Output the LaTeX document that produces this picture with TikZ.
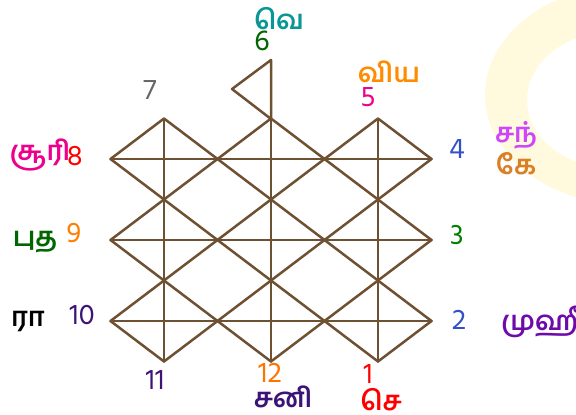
\documentclass[tikz,border=0pt]{standalone}
\usepackage{fontspec}
\newfontfamily\tamilfont[Script=Tamil]{Hind Madurai}
\newfontfamily\digitfont{Hind Madurai}
\usetikzlibrary{calc}

\tikzset{
  chartline/.style={line width=2.5pt,draw=gridline,line join=round,line cap=round},
  housenum/.style={inner sep=0pt,font=\digitfont\fontsize{29}{32}\selectfont},
  planet/.style={inner sep=0pt,font=\tamilfont\bfseries\fontsize{27}{32}\selectfont}
}

\begin{document}
\begin{tikzpicture}[x=1pt,y=-1pt]

  % Define colors
  \definecolor{gridline}{RGB}{110,80,50}
  \definecolor{ringyellow}{RGB}{255,249,221}
  \definecolor{tealtxt}{RGB}{10,150,150}
  \definecolor{indigotxt}{RGB}{60,20,120}
  \definecolor{purpletxt}{RGB}{110,10,170}
  \definecolor{orchidtxt}{RGB}{205,70,250}
  \definecolor{bluetxt}{RGB}{50,80,200}

  \useasboundingbox (0,0) rectangle (576,415);

  % pale ring at the upper right
  \fill[ringyellow,even odd rule] (630,95) ellipse [x radius=145,y radius=110]
    (612,100) ellipse [x radius=85,y radius=68];

  % 3x3 diamonds, each crossed
  \foreach \cx in {164,271,378} {
    \foreach \cy in {159,240,321} {
      \draw[chartline] (\cx-53.5,\cy) -- (\cx,\cy-40.5) -- (\cx+53.5,\cy)
        -- (\cx,\cy+40.5) -- cycle;
      \draw[chartline] (\cx-53.5,\cy) -- (\cx+53.5,\cy);
      \draw[chartline] (\cx,\cy-40.5) -- (\cx,\cy+40.5);
    }
  }

  % flag on top
  \draw[chartline] (271,119) -- (232,89) -- (271,60) -- (271,119);

  % house numbers
  \node[housenum,black!60] (h7) at (150,90) {7};
  \node[housenum,green!40!black] (h6) at (262,41) {6};
  \node[housenum,magenta] (h5) at (368,97) {5};
  \node[housenum,bluetxt] (h4) at (457,149) {4};
  \node[housenum,green!50!black] (h3) at (457,235) {3};
  \node[housenum,bluetxt] (h2) at (459,320) {2};
  \node[housenum,red] (h1) at (368,374) {1};
  \node[housenum,orange!90!red] (h12) at (270,373) {12};
  \node[housenum,indigotxt] (h11) at (155,380) {11};
  \node[housenum,indigotxt] (h10) at (82,315) {10};
  \node[housenum,orange] (h9) at (74,233) {9};
  \node[housenum,red] (h8) at (75,156) {8};

  % planets
  \node[planet,tealtxt] (ven) at (279,19) {வெ};
  \node[planet,orange!90!yellow] (jup) at (389,72) {விய};
  \node[planet,orchidtxt] (moon) at (516,135) {சந்};
  \node[planet,brown!60!orange] (ketu) at (516,164) {கே};
  \node[planet,purpletxt,anchor=west] (muhu) at (501,322) {முஹீ};
  \node[planet,red] (mars) at (381,400) {செ};
  \node[planet,indigotxt] (sat) at (283,397) {சனி};
  \node[planet,black] (rahu) at (28,321) {ரா};
  \node[planet,green!40!black] (merc) at (35,242) {புத};
  \node[planet,magenta] (sun) at (40,155) {சூரி};

\end{tikzpicture}
\end{document}
